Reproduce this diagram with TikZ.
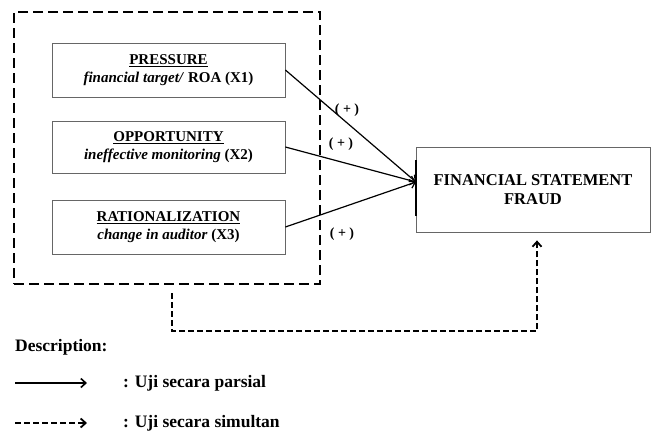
\documentclass[tikz,border=0pt]{standalone}
\usepackage{fontspec}
\setmainfont{Liberation Serif}
\usetikzlibrary{arrows.meta}
\def\boxfont{\fontsize{15}{18}\selectfont\bfseries}
\def\keyfont{\fontsize{17.5}{20}\selectfont\bfseries}
\def\dpart{\draw[partial]}
\tikzset{
  varbox/.style={draw=black!60, line width=0.8pt, minimum width=233pt,
    minimum height=54pt, inner sep=0pt, align=center, font=\boxfont},
  groupbox/.style={draw, line width=2.6pt, dash pattern=on 10pt off 5pt,
    minimum width=306pt, minimum height=272pt},
  partial/.style={line width=1.2pt, -{Straight Barb[length=5pt,width=9pt]}},
  simul/.style={line width=1.8pt, dash pattern=on 6pt off 3pt,
    -{Straight Barb[length=5pt,width=9pt]}},
  plus/.style={font=\fontsize{14}{16}\selectfont\bfseries, inner sep=0pt}
}

\begin{document}
\begin{tikzpicture}[x=1pt, y=-1pt]
  \useasboundingbox (0,0) rectangle (651,432);

  % independent variables
  \node[groupbox] (grp) at (167,148) {};
  \node[varbox] (press) at (168.5,70) {\underline{PRESSURE}\\\textit{financial target/} ROA (X1)};
  \node[varbox, minimum height=52pt] (oppo) at (168.5,147) {\underline{OPPORTUNITY}\\\textit{ineffective monitoring} (X2)};
  \node[varbox] (ratio) at (168.5,227) {\underline{RATIONALIZATION}\\\textit{change in auditor} (X3)};

  % dependent variable
  \node[varbox, minimum width=234pt, minimum height=85pt,
    font=\fontsize{16.5}{19}\selectfont\bfseries] (fsf) at (533,189.5) {FINANCIAL STATEMENT\\FRAUD};
  \coordinate (hit) at (416,182);
  \draw[line width=1.6pt] ([yshift=22pt]hit) -- ([yshift=-34pt]hit);

  \dpart (press.east) -- (hit);
  \dpart (oppo.east) -- (hit);
  \dpart (ratio.east) -- (hit);
  \node[plus] (s1) at (347,110) {( + )};
  \node[plus] (s2) at (341,144) {( + )};
  \node[plus] (s3) at (342,234) {( + )};

  \draw[simul] ([xshift=5pt,yshift=-8pt]grp.south) -- ++(0,38) -| ([xshift=4pt,yshift=-8pt]fsf.south);

  % legend
  \node[anchor=west, inner sep=0pt, font=\keyfont] (desc) at (15,347) {Description:};
  \coordinate (la) at (15,383);
  \coordinate (lb) at (15,423);
  \draw[partial, line width=1.6pt] (la) -- ++(72,0);
  \draw[simul] (lb) -- ++(72,0);
  \node[anchor=west, inner sep=0pt, font=\keyfont] (ka) at (123,383) {: Uji secara parsial};
  \node[anchor=west, inner sep=0pt, font=\keyfont] (kb) at (123,423) {: Uji secara simultan};
\end{tikzpicture}
\end{document}
